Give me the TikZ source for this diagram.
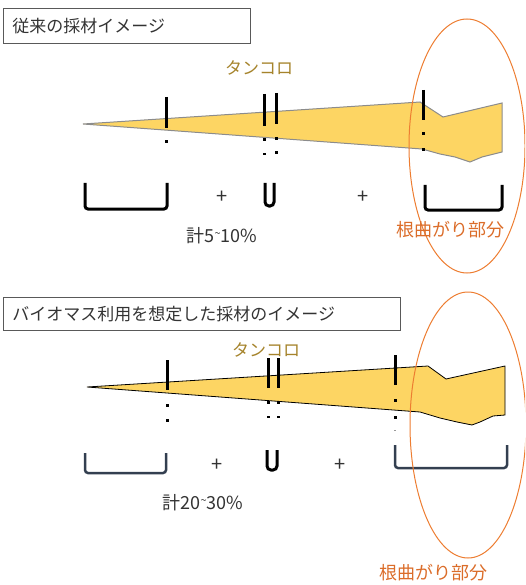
\documentclass[tikz,border=0pt]{standalone}
\usepackage{fontspec}
\setmainfont{Noto Sans CJK JP}
\definecolor{logfill}{HTML}{FDD563}
\definecolor{logedge}{HTML}{8C8C8C}
\definecolor{orng}{HTML}{ED7D31}
\definecolor{orngtext}{HTML}{DB6D2A}
\definecolor{tan}{HTML}{A5832B}
\definecolor{navy}{HTML}{333F50}
\definecolor{txt}{HTML}{333333}
\newcommand{\smalltilde}{{\fontsize{11pt}{11pt}\selectfont\raisebox{0.9ex}{\textasciitilde}}}
\tikzset{
  titlebox/.style={draw=black!65, line width=0.9pt, anchor=north west, inner xsep=9pt,
    text=txt, font=\fontsize{17pt}{20pt}\selectfont, align=left},
  lbl/.style={inner sep=0pt, font=\fontsize{17pt}{20pt}\selectfont},
  plus/.style={inner sep=0pt, text=txt, font=\fontsize{20pt}{20pt}\selectfont},
  sumtext/.style={inner sep=0pt, text=txt, font=\fontsize{18pt}{20pt}\selectfont},
  bar/.style={line width=3pt},
  bracketline/.style={line width=3pt, rounded corners=3pt},
  ring/.style={draw=orng, line width=1pt},
}
\newcommand{\dotmark}[2]{\fill (#1-1.5,#2-1.5) rectangle (#1+1.5,#2+1.5);}
\newcommand{\dashmark}[2]{\fill (#1-1.5,#2-0.8) rectangle (#1+1.5,#2+0.8);}
\begin{document}
\begin{tikzpicture}[x=1pt,y=-1pt]
\useasboundingbox (0,0) rectangle (525,585);
\clip (0,0) rectangle (525,585);

% ---------- upper part ----------
\node[titlebox, minimum height=35pt, text width=229pt] (t1) at (3,8) {従来の採材イメージ};

\filldraw[fill=logfill, draw=logedge, line width=1pt]
  (83,124) -- (420,102) -- (443,117) -- (502,103) -- (502,152) -- (482,157)
  -- (470,162) -- (455,157) -- (440,154) -- (422,149) -- cycle;

\node[lbl, text=tan] (tk1) at (259,68) {タンコロ};

\draw[bar] (166,97) -- (166,128);
\dotmark{166}{142}
\draw[bar] (264,94) -- (264,126);
\dotmark{264}{140}
\dashmark{264}{154}
\draw[bar] (276,93) -- (276,124);
\dotmark{276}{139}
\dotmark{276}{153}
\draw[bar] (423,90) -- (423,120);
\dotmark{423}{134}
\dotmark{423}{150}

\draw[bracketline] (85,183) -- (85,209) -- (167,209) -- (167,183);
\draw[line width=3pt, rounded corners=4pt] (265,183) -- (265,206) -- (274,206) -- (274,183);
\draw[bracketline] (425,185) -- (425,210) -- (502,210) -- (502,185);

\node[plus] (p1) at (222,197) {+};
\node[plus] (p2) at (363,197) {+};

\node[sumtext] (sum1) at (222,236) {計5\smalltilde10\%};

\draw[ring] (467,146) ellipse [x radius=58, y radius=127];
\node[lbl, text=orngtext, font=\fontsize{18pt}{20pt}\selectfont] (nm1) at (450,230) {根曲がり部分};

% ---------- lower part ----------
\node[titlebox, minimum height=33pt, text width=379pt] (t2) at (3,297) {バイオマス利用を想定した採材のイメージ};

\filldraw[fill=logfill, draw=black, line width=0.8pt]
  (87,387) -- (428,366) -- (446,379) -- (505,366) -- (505,415) -- (493,416)
  -- (480,422) -- (472,425) -- (457,422) -- (440,418) -- (420,412) -- cycle;

\node[lbl, text=tan] (tk2) at (266,350) {タンコロ};

\draw[bar] (167,360) -- (167,390);
\dotmark{167}{405}
\dotmark{167}{420}
\draw[bar] (268,358) -- (268,388);
\dotmark{268}{402}
\dashmark{268}{417}
\draw[bar] (278,358) -- (278,388);
\dotmark{278}{402}
\dashmark{278}{417}
\draw[bar] (395,355) -- (395,385);
\dotmark{395}{400}
\dotmark{395}{417}
\fill[black!40] (394,429.5) rectangle (396,430.5);

\draw[bracketline, draw=navy, line width=2.5pt] (85,453) -- (85,473) -- (166,473) -- (166,453);
\draw[line width=3pt, rounded corners=4pt] (267,450) -- (267,470) -- (277,470) -- (277,450);
\draw[bracketline, draw=navy, line width=2.5pt] (395,445) -- (395,468) -- (507,468) -- (507,445);

\node[plus] (p3) at (217,465) {+};
\node[plus] (p4) at (340,465) {+};

\node[sumtext] (sum2) at (203,503) {計20\smalltilde30\%};

\draw[ring] (468,425) ellipse [x radius=58, y radius=133];
\node[lbl, text=orngtext, font=\fontsize{18pt}{20pt}\selectfont] (nm2) at (433,573) {根曲がり部分};
\end{tikzpicture}
\end{document}
